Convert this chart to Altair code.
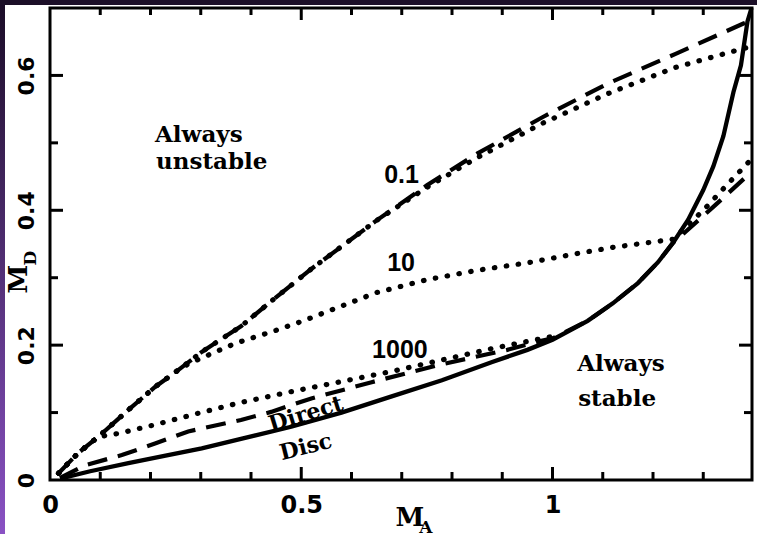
import altair as alt
import pandas as pd

# ---------------- data ----------------
disc_ma = [0.02, 0.08, 0.156, 0.23, 0.302, 0.38, 0.48, 0.58, 0.68, 0.78, 0.88, 0.95, 1.00,
           1.07, 1.12, 1.17, 1.21, 1.24, 1.27, 1.30, 1.32, 1.34, 1.36, 1.375, 1.388, 1.396]
disc_md = [0.002, 0.013, 0.025, 0.036, 0.047, 0.061, 0.079, 0.100, 0.124, 0.148, 0.175, 0.193, 0.208,
           0.236, 0.262, 0.292, 0.323, 0.352, 0.386, 0.430, 0.465, 0.510, 0.575, 0.615, 0.680, 0.700]

dash01_ma = [0.017, 0.056, 0.096, 0.156, 0.209, 0.255, 0.302, 0.38, 0.44, 0.52, 0.65, 0.75, 0.85,
             0.98, 1.11, 1.245, 1.38, 1.396]
dash01_md = [0.010, 0.040, 0.064, 0.104, 0.138, 0.163, 0.190, 0.228, 0.265, 0.313, 0.385, 0.437, 0.484,
             0.538, 0.588, 0.632, 0.677, 0.682]

dot01_ma = [0.017, 0.056, 0.096, 0.156, 0.209, 0.255, 0.302, 0.38, 0.44, 0.52, 0.65, 0.75, 0.85,
            0.98, 1.11, 1.245, 1.38, 1.396]
dot01_md = [0.010, 0.040, 0.064, 0.104, 0.138, 0.163, 0.190, 0.228, 0.265, 0.313, 0.385, 0.434, 0.478,
            0.529, 0.573, 0.612, 0.640, 0.643]

dot10_ma = [0.017, 0.056, 0.096, 0.156, 0.209, 0.255, 0.275, 0.32, 0.37, 0.45, 0.50, 0.57, 0.65, 0.75,
            0.85, 0.95, 1.05, 1.12, 1.18, 1.24, 1.30, 1.35, 1.396]
dot10_md = [0.010, 0.040, 0.064, 0.104, 0.138, 0.163, 0.172, 0.187, 0.203, 0.222, 0.235, 0.255, 0.278, 0.297,
            0.311, 0.322, 0.336, 0.345, 0.351, 0.357, 0.400, 0.440, 0.476]

dot1000_ma = [0.017, 0.056, 0.096, 0.136, 0.209, 0.295, 0.38, 0.48, 0.58, 0.68, 0.78, 0.88, 0.98, 1.00]
dot1000_md = [0.010, 0.040, 0.064, 0.069, 0.082, 0.099, 0.115, 0.131, 0.146, 0.161, 0.178, 0.195, 0.210, 0.213]

direct_ma = [0.02, 0.07, 0.143, 0.209, 0.275, 0.38, 0.44, 0.52, 0.64, 0.77, 0.91, 0.98, 1.00,
             1.07, 1.12, 1.17, 1.21, 1.24, 1.257, 1.32, 1.396]
direct_md = [0.003, 0.022, 0.037, 0.054, 0.072, 0.089, 0.101, 0.121, 0.145, 0.170, 0.193, 0.207, 0.210,
             0.236, 0.262, 0.292, 0.323, 0.352, 0.363, 0.405, 0.457]

x_tick_labels = [0, 0.5, 1]
y_tick_labels = [0, 0.2, 0.4, 0.6]
x_major = [0.5, 1.0]
x_minor = [0.1, 0.2, 0.3, 0.4, 0.6, 0.7, 0.8, 0.9, 1.1, 1.2, 1.3]
y_major = [0.2, 0.4, 0.6]
y_minor = [0.1, 0.3, 0.5]

region_text = ["Always", "unstable", "Always", "stable"]
region_ma = [0.209, 0.211, 1.049, 1.051]
region_md = [0.501, 0.461, 0.162, 0.110]

param_text = ["0.1", "10", "1000"]
param_ma = [0.665, 0.671, 0.641]
param_md = [0.441, 0.310, 0.181]

# ---------------- chart ----------------
W, H = 702, 472
xs = alt.Scale(domain=[0, 1.397], nice=False, zero=False)
ys = alt.Scale(domain=[0, 0.7], nice=False, zero=False)

x_axis = alt.Axis(values=x_tick_labels, format="~g", ticks=False, tickSize=0, domain=False, grid=False,
                  labelFont="DejaVu Sans", labelFontWeight="bold", labelFontSize=24, labelColor="black",
                  labelPadding=13, labelFlush=False, labelOverlap=False, title=None, zindex=1)
y_axis = alt.Axis(values=y_tick_labels, format="~g", ticks=False, tickSize=0, domain=False, grid=False,
                  labelFont="DejaVu Sans", labelFontWeight="bold", labelFontSize=22, labelColor="black",
                  labelAngle=270, labelAlign="center", labelBaseline="alphabetic",
                  labelPadding=17, labelFlush=False, labelOverlap=False, title=None, zindex=1)


def X(field="MA"):
    return alt.X(f"{field}:Q", scale=xs, axis=x_axis)


def Y(field="MD"):
    return alt.Y(f"{field}:Q", scale=ys, axis=y_axis)


def curve(ma, md, **style):
    df = pd.DataFrame({"MA": ma, "MD": md})
    return alt.Chart(df).mark_line(color="black", **style).encode(x=X(), y=Y())


dotted = dict(strokeDash=[0.5, 11.5], strokeCap="round", strokeWidth=5.2)
dashed = dict(strokeDash=[20, 11], strokeCap="butt", strokeWidth=4.2)

one = pd.DataFrame({"a": [0]})
left_strip = alt.Chart(one).mark_rect(
    color=alt.LinearGradient(gradient="linear",
                             stops=[alt.GradientStop(color="#1a0c26", offset=0),
                                    alt.GradientStop(color="#8a52c4", offset=1)],
                             x1=0, x2=0, y1=0, y2=1)
).encode(x=alt.value(-50), x2=alt.value(-45), y=alt.value(-8), y2=alt.value(H + 54))
top_strip = alt.Chart(one).mark_rect(color="#1c0f28").encode(
    x=alt.value(-50), x2=alt.value(W + 5), y=alt.value(-8), y2=alt.value(-3))

# inward ticks
xmaj = pd.DataFrame({"t": x_major})
xmin = pd.DataFrame({"t": x_minor})
ymaj = pd.DataFrame({"t": y_major})
ymin = pd.DataFrame({"t": y_minor})
tick_layers = [
    alt.Chart(xmaj).mark_rule(color="black", strokeWidth=3).encode(x=X("t"), y=alt.value(H), y2=alt.value(H - 13)),
    alt.Chart(xmin).mark_rule(color="black", strokeWidth=3).encode(x=X("t"), y=alt.value(H), y2=alt.value(H - 8)),
    alt.Chart(xmaj).mark_rule(color="black", strokeWidth=3).encode(x=X("t"), y=alt.value(0), y2=alt.value(12)),
    alt.Chart(xmin).mark_rule(color="black", strokeWidth=3).encode(x=X("t"), y=alt.value(0), y2=alt.value(7)),
    alt.Chart(ymaj).mark_rule(color="black", strokeWidth=3).encode(y=Y("t"), x=alt.value(0), x2=alt.value(13)),
    alt.Chart(ymin).mark_rule(color="black", strokeWidth=3).encode(y=Y("t"), x=alt.value(0), x2=alt.value(8)),
    alt.Chart(ymaj).mark_rule(color="black", strokeWidth=3).encode(y=Y("t"), x=alt.value(W), x2=alt.value(W - 13)),
    alt.Chart(ymin).mark_rule(color="black", strokeWidth=3).encode(y=Y("t"), x=alt.value(W), x2=alt.value(W - 8)),
]

regions = alt.Chart(pd.DataFrame({"MA": region_ma, "MD": region_md, "label": region_text})).mark_text(
    align="left", baseline="alphabetic", font="DejaVu Serif", fontWeight="bold", fontSize=23, color="black"
).encode(x=X(), y=Y(), text="label:N")

params = alt.Chart(pd.DataFrame({"MA": param_ma, "MD": param_md, "label": param_text})).mark_text(
    align="left", baseline="alphabetic", font="Liberation Sans", fontWeight="bold", fontSize=25, color="black"
).encode(x=X(), y=Y(), text="label:N")

direct_lbl = alt.Chart(pd.DataFrame({"MA": [0.509], "MD": [0.098], "label": ["Direct"]})).mark_text(
    align="center", baseline="middle", font="DejaVu Serif", fontWeight="bold", fontSize=22,
    angle=343, color="black").encode(x=X(), y=Y(), text="label:N")
disc_lbl = alt.Chart(pd.DataFrame({"MA": [0.509], "MD": [0.049], "label": ["Disc"]})).mark_text(
    align="center", baseline="middle", font="DejaVu Serif", fontWeight="bold", fontSize=22,
    angle=346, color="black").encode(x=X(), y=Y(), text="label:N")

# axis titles M_A and M_D (with subscripts)
xt_main = alt.Chart(pd.DataFrame({"MA": [0.716], "MD": [-0.068], "label": ["M"]})).mark_text(
    align="center", baseline="alphabetic", font="DejaVu Serif", fontWeight="bold", fontSize=26,
    color="black").encode(x=X(), y=Y(), text="label:N")
xt_sub = alt.Chart(pd.DataFrame({"MA": [0.735], "MD": [-0.079], "label": ["A"]})).mark_text(
    align="left", baseline="alphabetic", font="DejaVu Serif", fontWeight="bold", fontSize=17,
    color="black").encode(x=X(), y=Y(), text="label:N")
yt_main = alt.Chart(pd.DataFrame({"MA": [-0.0458], "MD": [0.298], "label": ["M"]})).mark_text(
    align="center", baseline="alphabetic", font="DejaVu Serif", fontWeight="bold", fontSize=26,
    angle=270, color="black").encode(x=X(), y=Y(), text="label:N")
yt_sub = alt.Chart(pd.DataFrame({"MA": [-0.027], "MD": [0.318], "label": ["D"]})).mark_text(
    align="left", baseline="alphabetic", font="DejaVu Serif", fontWeight="bold", fontSize=17,
    angle=270, color="black").encode(x=X(), y=Y(), text="label:N")

layers = [left_strip, top_strip] + tick_layers + [
    curve(dash01_ma, dash01_md, **dashed),
    curve(dot01_ma, dot01_md, **dotted),
    curve(dot10_ma, dot10_md, **dotted),
    curve(dot1000_ma, dot1000_md, **dotted),
    curve(direct_ma, direct_md, **dashed),
    curve(disc_ma, disc_md, strokeWidth=4.3),
    regions, params, direct_lbl, disc_lbl, xt_main, xt_sub, yt_main, yt_sub,
]

chart = alt.layer(*layers).properties(
    width=W, height=H,
    autosize=alt.AutoSizeParams(type="none"),
    padding={"left": 50, "top": 8, "right": 5, "bottom": 54},
).configure(background="white").configure_view(stroke="black", strokeWidth=3)

chart.save("out.html", embed_options={"renderer": "svg", "actions": False})
